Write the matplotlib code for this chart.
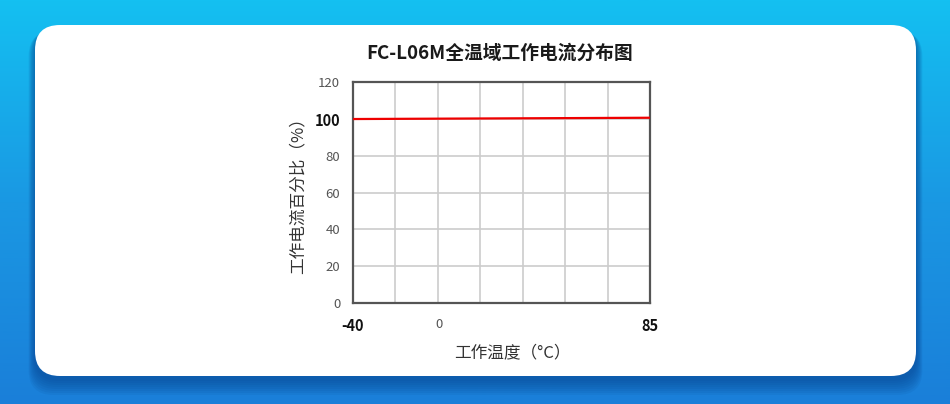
import numpy as np
import matplotlib
matplotlib.use("Agg")
import matplotlib.pyplot as plt
from matplotlib.patches import FancyBboxPatch
from matplotlib.colors import LinearSegmentedColormap
import matplotlib.transforms as mtransforms

plt.rcParams['font.family'] = ['Noto Sans CJK SC', 'DejaVu Sans']

# Data
temps = [-40, 85]
current_pct = [100, 100.7]
x_tick_vals = [-40, 0, 85]
x_tick_labels = ['-40', '0', '85']
y_tick_vals = [0, 20, 40, 60, 80, 100, 120]
title = 'FC-L06M全温域工作电流分布图'
xlabel = '工作温度（°C）'
ylabel = '工作电流百分比（%）'

W, H = 950, 404
fig = plt.figure(figsize=(W / 100, H / 100), dpi=100)

# background gradient
bg = fig.add_axes([0, 0, 1, 1])
bg.set_axis_off()
cmap = LinearSegmentedColormap.from_list('bg', ['#14c0f1', '#1a98e3', '#1a7fd9'])
grad = np.linspace(0, 1, 256).reshape(-1, 1)
bg.imshow(grad, aspect='auto', cmap=cmap, extent=[0, W, H, 0])
bg.set_xlim(0, W)
bg.set_ylim(H, 0)

# shadow
for i in range(8):
    g = 16 - i * 2
    sh = FancyBboxPatch((35 - g * 0.4, 28 + g * 0.2), 881 + g * 0.8, 351 + g * 0.8,
                        boxstyle="round,pad=0,rounding_size=25",
                        transform=bg.transData, facecolor='#063f8a', edgecolor='none', alpha=0.09)
    bg.add_patch(sh)

card = FancyBboxPatch((35, 25), 881, 351, boxstyle="round,pad=0,rounding_size=25",
                      transform=bg.transData, facecolor='white', edgecolor='none')
bg.add_patch(card)

fig.text(500 / W, 1 - 53 / H, title, ha='center', va='center', fontsize=13.5,
         fontweight='bold', color='#1a1a1a')

ax = fig.add_axes([352.7 / W, 1 - 302.7 / H, 297.3 / W, 220.4 / H])
ax.set_xlim(-40, 85)
ax.set_ylim(0, 120)
ax.set_facecolor('white')

for gx in np.linspace(-40, 85, 8)[1:-1]:
    ax.axvline(gx, color='#cccccc', lw=1.2, zorder=1)
for gy in y_tick_vals[1:-1]:
    ax.axhline(gy, color='#cccccc', lw=1.2, zorder=1)

ax.plot(temps, current_pct, color='#ee0000', lw=1.6, zorder=3)

for s in ax.spines.values():
    s.set_color('#555555')
    s.set_linewidth(1.6)

ax.set_yticks(y_tick_vals)
ax.set_yticklabels([str(v) for v in y_tick_vals])
ax.set_xticks(x_tick_vals)
ax.set_xticklabels(x_tick_labels)
ax.tick_params(axis='both', length=0, labelsize=9.5, colors='#555555')
ax.tick_params(axis='y', pad=9)
ax.tick_params(axis='x', pad=11)

for lbl, v in zip(ax.get_yticklabels(), y_tick_vals):
    if v == 100:
        lbl.set_fontweight('bold')
        lbl.set_color('#111111')
        lbl.set_fontsize(10.5)
for lbl, t in zip(ax.get_xticklabels(), x_tick_labels):
    if t in ('-40', '85'):
        lbl.set_fontweight('bold')
        lbl.set_color('#111111')
        lbl.set_fontsize(10.5)
    else:
        lbl.set_transform(lbl.get_transform() + mtransforms.ScaledTranslation(-9 / 100, 0, fig.dpi_scale_trans))

fig.text(298 / W, 1 - 192 / H, ylabel, rotation=90, ha='center', va='center',
         fontsize=12, color='#333333')
fig.text(512 / W, 1 - 353 / H, xlabel, ha='center', va='center',
         fontsize=12, color='#333333')

fig.savefig('out.png', dpi=100)
